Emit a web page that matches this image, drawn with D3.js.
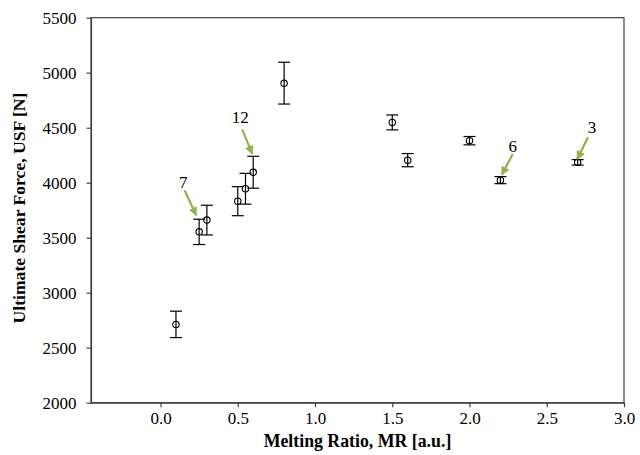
<!DOCTYPE html>
<html><head><meta charset="utf-8">
<script src="https://cdn.jsdelivr.net/npm/d3@7"></script>
<style>body{margin:0;background:#fff}svg{display:block}</style>
</head><body>
<svg id="c" width="640" height="455"></svg>
<script>
const mr    = [0.1, 0.25, 0.3, 0.5, 0.55, 0.6, 0.8, 1.5, 1.6, 2.0, 2.2, 2.7];
const usf   = [2712, 3553, 3660, 3832, 3945, 4095, 4905, 4548, 4205, 4382, 4023, 4185];
const usfErr= [120, 115, 135, 132, 140, 145, 190, 68, 60, 38, 32, 25];
const xTicks = [0.0, 0.5, 1.0, 1.5, 2.0, 2.5, 3.0];
const yTicks = [2000, 2500, 3000, 3500, 4000, 4500, 5000, 5500];
const noteLabels = ["7", "12", "6", "3"];
const noteTarget = [1, 5, 10, 11];

const svg = d3.select("#c");
const L = 91, R = 624, T = 17.7, B = 402.7;
const x = d3.scaleLinear().domain([-0.45, 3.0]).range([L, R]);
const y = d3.scaleLinear().domain([2000, 5500]).range([B, T]);
const axisCol = "#404040";
const font = "Liberation Serif";

// frame
svg.append("rect").attr("x", L).attr("y", T).attr("width", R - L).attr("height", B - T)
  .attr("fill", "none").attr("stroke", axisCol).attr("stroke-width", 1.2);

const xa = svg.append("g").attr("transform", `translate(0,${B})`)
  .call(d3.axisBottom(x).tickValues(xTicks).tickFormat(d3.format(".1f")).tickSizeInner(4.5).tickSizeOuter(0).tickPadding(5));
const ya = svg.append("g").attr("transform", `translate(${L},0)`)
  .call(d3.axisLeft(y).tickValues(yTicks).tickFormat(d3.format("d")).tickSizeInner(4.5).tickSizeOuter(0).tickPadding(10));
[xa, ya].forEach(a => {
  a.attr("font-family", font).attr("font-size", 17);
  a.select(".domain").attr("stroke", axisCol).attr("stroke-width", 1.2);
  a.selectAll(".tick line").attr("stroke", axisCol).attr("stroke-width", 1.2);
  a.selectAll("text").attr("fill", "#000").style("font-family", font).style("font-size", "17px");
});

// error bars
const g = svg.append("g");
const cap = 6;
mr.forEach((v, i) => {
  const cx = x(v), y1 = y(usf[i] + usfErr[i]), y2 = y(usf[i] - usfErr[i]);
  g.append("line").attr("x1", cx).attr("x2", cx).attr("y1", y1).attr("y2", y2).attr("stroke", "#000").attr("stroke-width", 1.2);
  g.append("line").attr("x1", cx - cap).attr("x2", cx + cap).attr("y1", y1).attr("y2", y1).attr("stroke", "#000").attr("stroke-width", 1.2);
  g.append("line").attr("x1", cx - cap).attr("x2", cx + cap).attr("y1", y2).attr("y2", y2).attr("stroke", "#000").attr("stroke-width", 1.2);
});
g.selectAll("circle").data(mr).join("circle")
  .attr("cx", d => x(d)).attr("cy", (d, i) => y(usf[i])).attr("r", 3.2)
  .attr("fill", "none").attr("stroke", "#000").attr("stroke-width", 1.1);

// annotations (pixel offsets relative to top of the target's error bar)
const green = "#8db34c";
svg.append("defs").append("marker").attr("id", "ah").attr("viewBox", "0 0 10 10")
  .attr("refX", 9).attr("refY", 5).attr("markerWidth", 4).attr("markerHeight", 4)
  .attr("orient", "auto").append("path").attr("d", "M0,0 L10,5 L0,10 Z").attr("fill", green);
const noteLayout = [
  {tip: [-3, -4], start: [-14.5, -29], label: [-16, -31]},
  {tip: [-1, -2.5], start: [-11, -27], label: [-13, -33]},
  {tip: [1.4, -2], start: [12.4, -22.7], label: [12.4, -25]},
  {tip: [-0.4, -0.5], start: [10.3, -22.3], label: [14.3, -26.7]}
];
noteLabels.forEach((lab, i) => {
  const k = noteTarget[i], o = noteLayout[i];
  const px = x(mr[k]), py = y(usf[k] + usfErr[k]);
  svg.append("line").attr("x1", px + o.start[0]).attr("y1", py + o.start[1])
    .attr("x2", px + o.tip[0]).attr("y2", py + o.tip[1])
    .attr("stroke", green).attr("stroke-width", 2.2).attr("marker-end", "url(#ah)");
  svg.append("text").attr("x", px + o.label[0]).attr("y", py + o.label[1]).attr("text-anchor", "middle")
    .style("font-family", font).style("font-size", "17px").attr("fill", "#000").text(lab);
});

// axis titles
svg.append("text").attr("x", (L + R) / 2).attr("y", 446.5).attr("text-anchor", "middle")
  .style("font-family", font).style("font-size", "17.8px").style("font-weight", "bold").text("Melting Ratio, MR [a.u.]");
svg.append("text").attr("transform", `translate(25,208) rotate(-90)`).attr("text-anchor", "middle")
  .style("font-family", font).style("font-size", "17.6px").style("font-weight", "bold").text("Ultimate Shear Force, USF [N]");
</script>
</body></html>
